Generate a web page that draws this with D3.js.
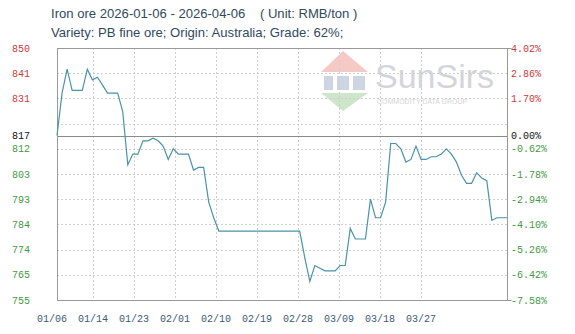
<!DOCTYPE html>
<html>
<head>
<meta charset="utf-8">
<style>
    body { margin: 0; background: #fff; }
    .title { font-family: "Liberation Sans", sans-serif; font-size: 13.1px; fill: #2f4a5c; }
    .lab { font-family: "Liberation Mono", monospace; font-size: 10px; }
    .grid { stroke: #cfcfcf; stroke-width: 1; stroke-dasharray: 2,2; }
    .frame { fill: none; stroke: #999; stroke-width: 1; }
    path.price { fill: none; stroke: #4a93a8; stroke-width: 1.2px; }
</style>
<script src="https://d3js.org/d3.v7.min.js"></script>
</head>
<body>
<script>
    // iron ore price, one value per point, 01/06 .. 04/06
    let prices = [817, 833, 842, 834, 834, 834, 842, 838, 839, 836,
                  833, 833, 833, 826, 806, 810, 810, 815, 815, 816,
                  815, 813, 808, 812, 810, 810, 810, 804, 805, 805,
                  792, 786, 781, 781, 781, 781, 781, 781, 781, 781,
                  781, 781, 781, 781, 781, 781, 781, 781, 781, 771,
                  762, 768, 767, 766, 766, 766, 768, 768, 782, 778,
                  778, 778, 793, 786, 786, 792, 814, 814, 812, 807,
                  808, 813, 808, 808, 809, 809, 810, 812, 810, 807,
                  802, 799, 799, 803, 801, 800, 785, 786, 786, 786];
    let base = 817;
    let xLabels = ["01/06", "01/14", "01/23", "02/01", "02/10", "02/19", "02/28", "03/09", "03/18", "03/27"];
    let yTicks = [850, 840.5, 831, 821.5, 812, 802.5, 793, 783.5, 774, 764.5, 755];
    let leftLabels = ["850", "841", "831", "", "812", "803", "793", "784", "774", "765", "755"];
    let rightLabels = ["4.02%", "2.86%", "1.70%", "", "-0.62%", "-1.78%", "-2.94%", "-4.10%", "-5.26%", "-6.42%", "-7.58%"];

    let w = 575, h = 334;
    let mLeft = 57, mRight = 507, mTop = 48, mBottom = 300;
    let red = "#cc3a3a", green = "#3f9a3f";

    let svg = d3.select("body").append("svg")
        .attr("width", w)
        .attr("height", h);

    let x = d3.scaleLinear()
        .domain([0, prices.length - 1])
        .range([mLeft, mRight]);
    let y = d3.scaleLinear()
        .domain([755, 850])
        .range([mBottom, mTop]);
    // the date labels are spread evenly, not on the data points
    let xl = d3.scalePoint()
        .domain(xLabels)
        .range([52, 421]);

    // watermark
    let wm = svg.append("g").attr("opacity", 0.7);
    wm.append("path").attr("d", "M321,72 L343,51 L368,72 Z").attr("fill", "#f2b3ad");
    wm.append("rect").attr("x", 324).attr("y", 76).attr("width", 9).attr("height", 14).attr("fill", "#b9c4d6");
    wm.append("rect").attr("x", 337).attr("y", 76).attr("width", 12).attr("height", 14).attr("fill", "#b9c4d6");
    wm.append("rect").attr("x", 353).attr("y", 76).attr("width", 12).attr("height", 14).attr("fill", "#b9c4d6");
    wm.append("path").attr("d", "M321,93 L368,93 L343,111 Z").attr("fill", "#b8dcb4");
    wm.append("text").attr("x", 375).attr("y", 88)
        .attr("font-family", "Liberation Sans, sans-serif").attr("font-size", 34)
        .attr("fill", "#bfc5cc").text("SunSirs");
    wm.append("text").attr("x", 377).attr("y", 104)
        .attr("font-family", "Liberation Sans, sans-serif").attr("font-size", 7)
        .attr("fill", "#c4c4c4").text("COMMODITY DATA GROUP");

    // grid
    svg.append("g").selectAll("line")
        .data(yTicks.slice(1, -1))
        .join("line")
        .attr("class", "grid")
        .attr("x1", mLeft).attr("x2", mRight)
        .attr("y1", d => Math.round(y(d)) + 0.5)
        .attr("y2", d => Math.round(y(d)) + 0.5);
    svg.append("g").selectAll("line")
        .data(xLabels.slice(1))
        .join("line")
        .attr("class", "grid")
        .attr("x1", d => Math.round(xl(d)) + 0.5)
        .attr("x2", d => Math.round(xl(d)) + 0.5)
        .attr("y1", mTop).attr("y2", mBottom);

    // base line
    svg.append("line")
        .attr("x1", mLeft).attr("x2", mRight)
        .attr("y1", Math.round(y(base)) + 0.5)
        .attr("y2", Math.round(y(base)) + 0.5)
        .attr("stroke", "#8a8a8a");

    // frame
    svg.append("rect").attr("class", "frame")
        .attr("x", mLeft + 0.5).attr("y", mTop + 0.5)
        .attr("width", mRight - mLeft).attr("height", mBottom - mTop);
    svg.append("path").attr("class", "frame")
        .attr("d", "M" + (mRight + 0.5) + "," + (mTop + 0.5) + "h4M" + (mRight + 0.5) + "," + (mBottom + 0.5) + "h4");

    // price line
    let line = d3.line()
        .x((d, i) => x(i))
        .y(d => y(d));
    svg.append("path")
        .attr("class", "price")
        .attr("d", line(prices));

    // left labels
    let col = v => v > base ? red : (v < base ? green : "#111");
    svg.append("g").selectAll("text")
        .data(yTicks.map((v, i) => ({v: v, t: leftLabels[i]})).filter(d => d.t))
        .join("text")
        .attr("class", "lab")
        .attr("text-anchor", "end")
        .attr("x", 30)
        .attr("y", d => y(d.v) + 3.5)
        .attr("fill", d => col(d.v))
        .text(d => d.t);
    svg.append("text").attr("class", "lab")
        .attr("text-anchor", "end")
        .attr("x", 30).attr("y", y(base) + 3.5)
        .attr("fill", "#111").text(base);

    // right labels
    svg.append("g").selectAll("text")
        .data(yTicks.map((v, i) => ({v: v, t: rightLabels[i]})).filter(d => d.t))
        .join("text")
        .attr("class", "lab")
        .attr("x", 511)
        .attr("y", d => y(d.v) + 3.5)
        .attr("fill", d => col(d.v))
        .text(d => d.t);
    svg.append("text").attr("class", "lab")
        .attr("x", 511).attr("y", y(base) + 3.5)
        .attr("fill", "#111").text("0.00%");

    // x labels
    svg.append("g").selectAll("text")
        .data(xLabels)
        .join("text")
        .attr("class", "lab")
        .attr("text-anchor", "middle")
        .attr("x", d => xl(d))
        .attr("y", 322)
        .attr("fill", "#3a5a72")
        .text(d => d);

    // titles
    svg.append("text").attr("class", "title")
        .attr("x", 51).attr("y", 18)
        .attr("xml:space", "preserve")
        .text("Iron ore 2026-01-06 - 2026-04-06    ( Unit: RMB/ton )");
    svg.append("text").attr("class", "title")
        .attr("x", 51).attr("y", 37)
        .text("Variety: PB fine ore; Origin: Australia; Grade: 62%;");
</script>
</body>
</html>
